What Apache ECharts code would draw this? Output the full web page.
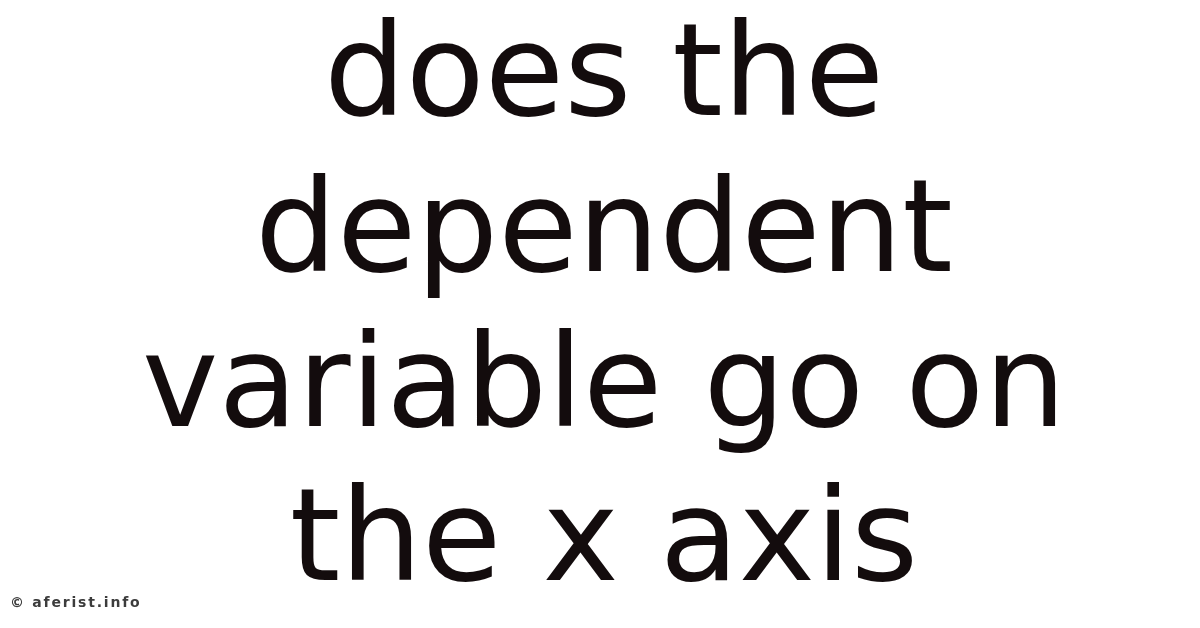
<!DOCTYPE html>
<html>
<head>
<meta charset="utf-8">
<script src="https://cdn.jsdelivr.net/npm/echarts@6/dist/echarts.min.js"></script>
<style>
html,body{margin:0;padding:0;background:#fff;}
#chart{width:1200px;height:628px;}
</style>
</head>
<body>
<div id="chart"></div>
<script>
const titleLines = ["does the", "dependent", "variable go on", "the x axis"];
const watermarkText = ["\u00a9 aferist.info"];

const chart = echarts.init(document.getElementById('chart'));
const lineY = [81, 237, 392, 546];
const graphics = titleLines.map((t, i) => ({
  type: 'text',
  x: 604,
  y: lineY[i],
  style: {
    text: t,
    font: 'normal 129px "DejaVu Sans"',
    fill: '#130c0d',
    align: 'center',
    verticalAlign: 'middle'
  }
}));
// watermark: letter-spaced via rich tokens
const wm = watermarkText[0].split('').map(c => '{c|' + c + '}').join('');
graphics.push({
  type: 'text',
  x: 9,
  y: 603,
  style: {
    text: wm,
    rich: {
      c: {
        fontFamily: 'DejaVu Sans',
        fontWeight: 'bold',
        fontSize: 14,
        fill: '#3c3c3c',
        padding: [0, 0.9, 0, 0.9]
      }
    },
    align: 'left',
    verticalAlign: 'middle'
  }
});
chart.setOption({
  backgroundColor: '#ffffff',
  animation: false,
  graphic: graphics
});
</script>
</body>
</html>
